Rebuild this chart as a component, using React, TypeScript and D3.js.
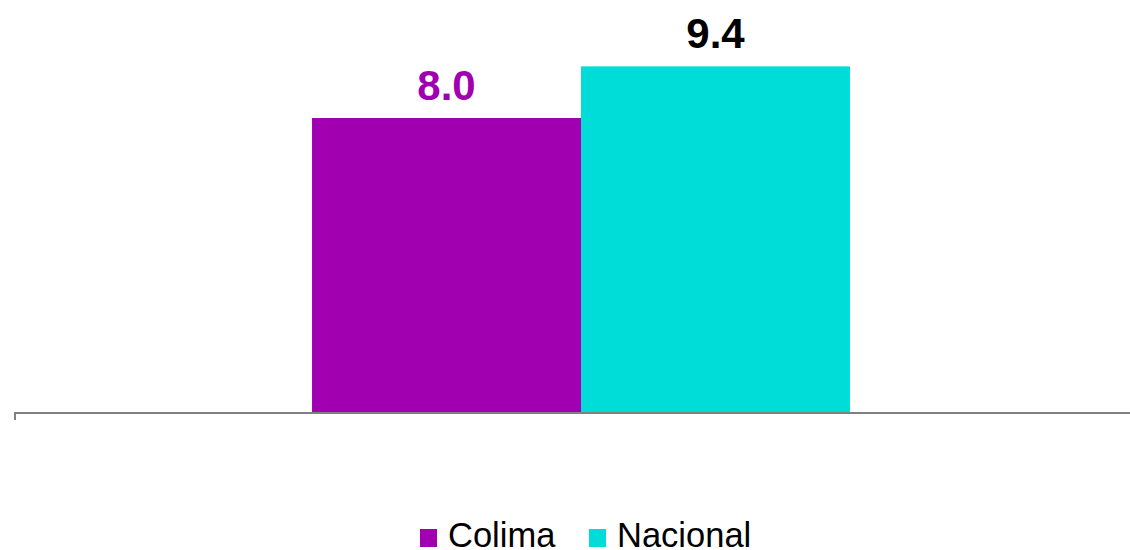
import React from "react";
import * as d3 from "d3";

const categories: string[] = [""];
const seriesNames: string[] = ["Colima", "Nacional"];
const seriesValues: number[] = [8.0, 9.4];
const seriesColors: string[] = ["#A100B1", "#00DDD9"];
const labelColors: string[] = ["#A100B1", "#000000"];

const W = 1130;
const H = 550;

export default function App() {
  const baseY = 413;
  const x0 = d3
    .scaleBand<string>()
    .domain(categories)
    .range([14, 1148])
    .paddingInner(0)
    .paddingOuter(0.554);
  const x1 = d3
    .scaleBand<string>()
    .domain(seriesNames)
    .range([0, x0.bandwidth()])
    .padding(0);
  const y = d3.scaleLinear().domain([0, 11.2]).range([baseY, 0]);

  return (
    <svg
      width={W}
      height={H}
      style={{ position: "absolute", left: 0, top: 0, background: "#fff" }}
      fontFamily="'Liberation Sans', Arial, sans-serif"
    >
      {categories.map((c) => (
        <g key={c} transform={`translate(${x0(c)},0)`}>
          {seriesNames.map((s, i) => (
            <g key={s}>
              <rect
                x={x1(s)}
                y={y(seriesValues[i])}
                width={x1.bandwidth()}
                height={baseY - y(seriesValues[i])}
                fill={seriesColors[i]}
              />
              <text
                x={(x1(s) as number) + x1.bandwidth() / 2}
                y={y(seriesValues[i]) - 18}
                textAnchor="middle"
                fontSize={42}
                fontWeight="bold"
                fill={labelColors[i]}
              >
                {seriesValues[i].toFixed(1)}
              </text>
            </g>
          ))}
        </g>
      ))}
      <line x1={14} x2={W} y1={baseY} y2={baseY} stroke="#808080" strokeWidth={2} />
      <line x1={15} x2={15} y1={baseY} y2={420} stroke="#808080" strokeWidth={2} />
      <g>
        {seriesNames.map((s, i) => {
          const lx = [420, 589][i];
          return (
            <g key={s}>
              <rect x={lx} y={529} width={17} height={18} fill={seriesColors[i]} />
              <text x={lx + 28} y={546.5} fontSize={34.5} fill="#000">
                {s}
              </text>
            </g>
          );
        })}
      </g>
    </svg>
  );
}
